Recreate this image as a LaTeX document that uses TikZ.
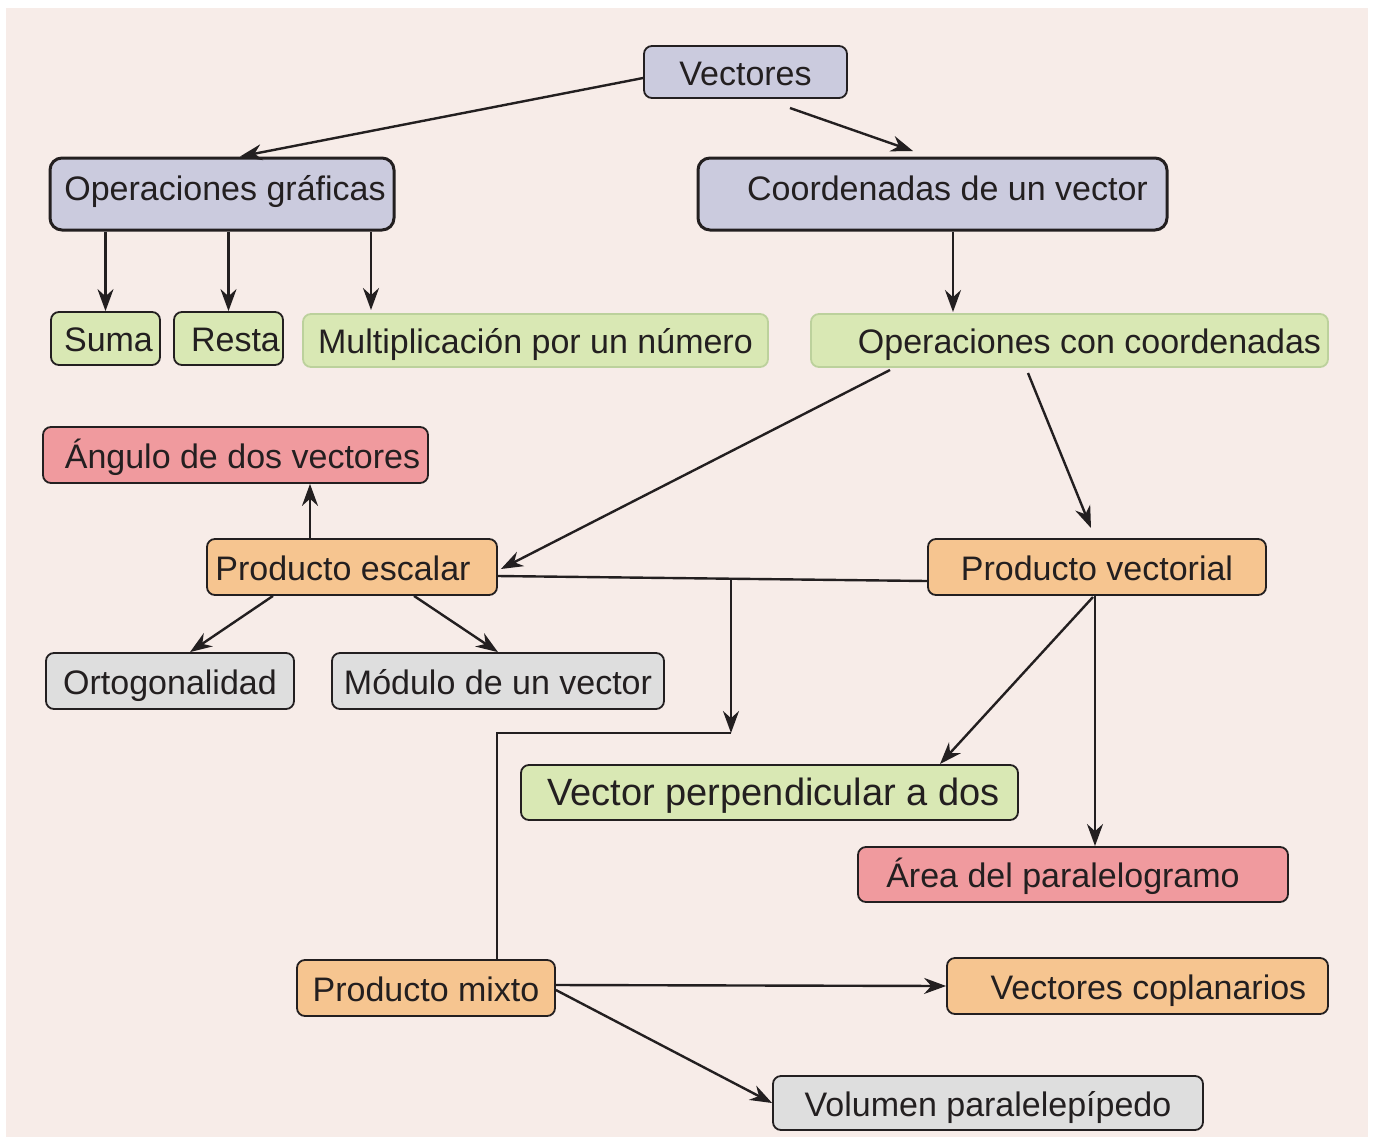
\documentclass[tikz,border=0pt]{standalone}
\usepackage{fontspec}
\setmainfont{Liberation Sans}
\usetikzlibrary{arrows.meta}

\definecolor{fondo}{HTML}{F7ECE8}
\definecolor{tinta}{HTML}{231F20}
\definecolor{lila}{HTML}{CBCBDE}
\definecolor{verde}{HTML}{D9E8B4}
\definecolor{bordeverde}{HTML}{BCD19C}
\definecolor{rojo}{HTML}{F09A9E}
\definecolor{naranja}{HTML}{F6C590}
\definecolor{gris}{HTML}{DEDEDE}

\begin{document}
\begin{tikzpicture}[x=0.5pt, y=-0.5pt]

    %--- Base styles:
    \tikzset{
        base box/.style={draw=tinta, line width=0.9pt, rounded corners=4pt, inner sep=0pt,
            text=tinta, font=\fontsize{17}{20}\selectfont, text height=15pt, text depth=2pt},
        title box/.style={base box, fill=lila, line width=1.5pt, rounded corners=6pt,
            text height=12pt, text depth=6pt},
        green box/.style={base box, fill=verde},
        soft box/.style={base box, fill=verde, draw=bordeverde},
        red box/.style={base box, fill=rojo},
        orange box/.style={base box, fill=naranja},
        grey box/.style={base box, fill=gris},
        arrow/.style={draw=tinta, line width=1.2pt, -{Stealth[length=11pt, width=8pt]}},
        plain/.style={draw=tinta, line width=1.2pt}
    }

    %--- Background
    \useasboundingbox (0,0) rectangle (1373,1137);
    \fill[fondo] (6,8) rectangle (1368,1137);

    %--- Top level
    \node[title box, minimum width=101.5pt, minimum height=26pt, line width=0.9pt, rounded corners=4pt,
          text height=15pt, text depth=2pt] (vec) at (745.5,72) {Vectores};
    \node[title box, minimum width=172pt, minimum height=36pt] (opg) at (222,194) {\hspace*{3pt}Operaciones gráficas};
    \node[title box, minimum width=234.5pt, minimum height=36pt] (coord) at (932.5,194) {\hspace*{15pt}Coordenadas de un vector};

    %--- Graphic operations
    \node[green box, minimum width=54.5pt, minimum height=26.5pt] (suma) at (105.5,338.5) {\hspace*{3pt}Suma};
    \node[green box, minimum width=54.5pt, minimum height=26.5pt] (resta) at (228.5,338.5) {\hspace*{7pt}Resta};
    \node[soft box, minimum width=232.5pt, minimum height=26.5pt] (mult) at (535.5,340.5) {Multiplicación por un número};
    \node[soft box, minimum width=258.5pt, minimum height=26.5pt] (opc) at (1069.5,340.5) {\hspace*{20pt}Operaciones con coordenadas};

    %--- Products
    \node[red box, minimum width=192.5pt, minimum height=28pt] (ang) at (235.5,455) {\hspace*{7pt}Ángulo de dos vectores};
    \node[orange box, minimum width=145pt, minimum height=28pt] (pesc) at (352,567) {Producto escalar\hspace*{9pt}};
    \node[orange box, minimum width=169pt, minimum height=28pt] (pvec) at (1097,567) {Producto vectorial};
    \node[grey box, minimum width=124pt, minimum height=28pt] (orto) at (170,681) {Ortogonalidad};
    \node[grey box, minimum width=166pt, minimum height=28pt] (mod) at (498,681) {Módulo de un vector};
    \node[green box, minimum width=248.5pt, minimum height=27.5pt, font=\fontsize{19}{22}\selectfont] (vperp) at (769.5,792.5) {\hspace*{4pt}Vector perpendicular a dos};
    \node[red box, minimum width=215pt, minimum height=27.5pt] (area) at (1073,874.5) {Área del paralelogramo\hspace*{10pt}};
    \node[orange box, minimum width=129pt, minimum height=28pt] (pmix) at (426,988) {Producto mixto};
    \node[orange box, minimum width=190.5pt, minimum height=28pt] (copl) at (1137.5,986) {\hspace*{11pt}Vectores coplanarios};
    \node[grey box, minimum width=215pt, minimum height=27pt] (vol) at (988,1103) {Volumen paralelepípedo};

    %--- Free ends of some connectors
    \coordinate (v1) at (790,108);
    \coordinate (v2) at (913,151);
    \coordinate (m1) at (371,310);
    \coordinate (c1) at (953,312);
    \coordinate (o1) at (890,370);
    \coordinate (o2) at (1028,373);
    \coordinate (o3) at (1091,528);
    \coordinate (j1) at (731,578);
    \coordinate (j2) at (731,733);
    \coordinate (p1) at (497,960);
    \coordinate (w1) at (1093,597);
    \coordinate (w2) at (940,764);
    \coordinate (w3) at (1095,846);

    %--- Connectors
    \draw[arrow] ([yshift=-3pt]vec.west) -- ([xshift=9pt]opg.north);
    \draw[arrow] (v1) -- (v2);
    \draw[arrow] (opg.south -| suma.north) -- (suma.north);
    \draw[arrow] (opg.south -| resta.north) -- (resta.north);
    \draw[arrow] (opg.south -| m1) -- (m1);
    \draw[arrow] (coord.south -| c1) -- (c1);
    \draw[arrow] (o1) -- ([xshift=1.5pt,yshift=-1pt]pesc.east);
    \draw[arrow] (o2) -- (o3);
    \draw[arrow] ([xshift=-21pt]pesc.north) -- ([xshift=-21pt]pesc.north |- ang.south);
    \draw[arrow] ([xshift=-39.5pt]pesc.south) -- ([xshift=10pt]orto.north);
    \draw[arrow] ([xshift=31pt]pesc.south) -- (mod.north);
    \draw[plain] ([yshift=-4.5pt]pesc.east) -- ([yshift=-7pt]pvec.west);
    \draw[arrow] (j1) -- (j2);
    \draw[plain] (j2) -- (j2 -| p1) -- (p1);
    \draw[arrow] (w1) -- (w2);
    \draw[arrow] (pvec.south -| w3) -- (w3);
    \draw[arrow] ([yshift=1.5pt]pmix.east) -- (copl.west);
    \draw[arrow] ([yshift=-1pt]pmix.east) -- (vol.west);

\end{tikzpicture}
\end{document}
